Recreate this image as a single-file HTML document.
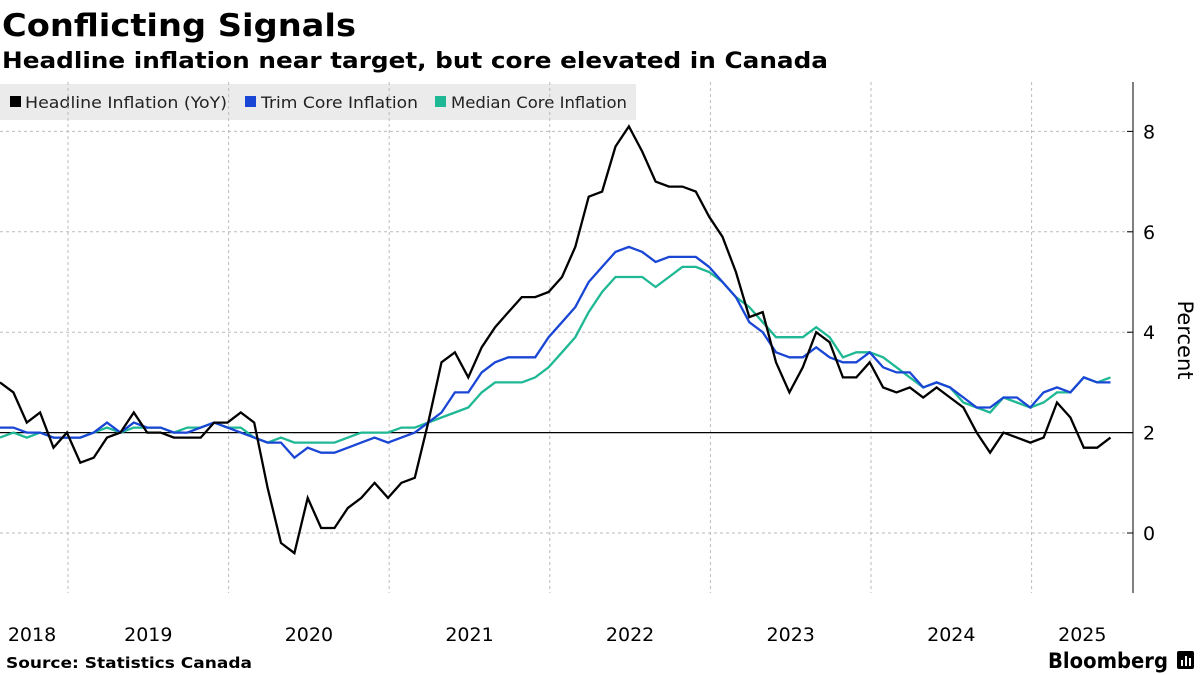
<!DOCTYPE html>
<html><head><meta charset="utf-8"><style>
body{margin:0;background:#fff;}
svg{display:block;font-family:"DejaVu Sans","Liberation Sans",sans-serif;}
</style></head><body>
<svg id="chart" width="1200" height="675" viewBox="0 0 1200 675" xmlns="http://www.w3.org/2000/svg">
<text x="2" y="36" font-size="31" font-weight="bold" textLength="354" lengthAdjust="spacingAndGlyphs">Conflicting Signals</text>
<text x="2" y="68" font-size="22" font-weight="bold" textLength="826" lengthAdjust="spacingAndGlyphs">Headline inflation near target, but core elevated in Canada</text>
<g>
<rect x="0" y="84" width="636" height="36" fill="#ebebeb"/>
<g><rect x="10" y="96" width="11" height="11" fill="#000"/><text x="25" y="108" font-size="16" fill="#222" textLength="202" lengthAdjust="spacingAndGlyphs">Headline Inflation (YoY)</text></g>
<g><rect x="245" y="96" width="11" height="11" fill="#1a46d6"/><text x="261" y="108" font-size="16" fill="#222" textLength="157" lengthAdjust="spacingAndGlyphs">Trim Core Inflation</text></g>
<g><rect x="435" y="96" width="11" height="11" fill="#1fb894"/><text x="451" y="108" font-size="16" fill="#222" textLength="176" lengthAdjust="spacingAndGlyphs">Median Core Inflation</text></g>
</g>
<g id="grid"></g>
<g id="axes"></g>
<g id="series"></g>
<text transform="translate(1178,340) rotate(90)" text-anchor="middle" font-size="21" fill="#000">Percent</text>
<text x="6" y="668" font-size="15" font-weight="bold" textLength="246" lengthAdjust="spacingAndGlyphs">Source: Statistics Canada</text>
<g><text x="1048" y="668" font-size="21" font-weight="bold" textLength="120" lengthAdjust="spacingAndGlyphs">Bloomberg</text><rect x="1177" y="651" width="17" height="18" rx="2" fill="#000"/><rect x="1181" y="660" width="2" height="6" fill="#fff"/><rect x="1185" y="656" width="2" height="10" fill="#fff"/><rect x="1189" y="658" width="2" height="8" fill="#fff"/></g>
</svg>
<script>
const yearLabels = ["2018","2019","2020","2021","2022","2023","2024","2025"];
const yTicks = [0,2,4,6,8];
const headline = [3.0,2.8,2.2,2.4,1.7,2.0,
 1.4,1.5,1.9,2.0,2.4,2.0,2.0,1.9,1.9,1.9,2.2,2.2,
 2.4,2.2,0.9,-0.2,-0.4,0.7,0.1,0.1,0.5,0.7,1.0,0.7,
 1.0,1.1,2.2,3.4,3.6,3.1,3.7,4.1,4.4,4.7,4.7,4.8,
 5.1,5.7,6.7,6.8,7.7,8.1,7.6,7.0,6.9,6.9,6.8,6.3,
 5.9,5.2,4.3,4.4,3.4,2.8,3.3,4.0,3.8,3.1,3.1,3.4,
 2.9,2.8,2.9,2.7,2.9,2.7,2.5,2.0,1.6,2.0,1.9,1.8,
 1.9,2.6,2.3,1.7,1.7,1.9];
const trim = [2.1,2.1,2.0,2.0,1.9,1.9,1.9,2.0,2.2,2.0,2.2,2.1,2.1,2.0,2.0,2.1,2.2,2.1,2.0,1.9,1.8,1.8,1.5,1.7,1.6,1.6,1.7,1.8,1.9,
 1.8,1.9,2.0,2.2,2.4,2.8,2.8,3.2,3.4,3.5,3.5,3.5,3.9,4.2,4.5,5.0,5.3,5.6,5.7,5.6,5.4,5.5,5.5,5.5,5.3,5.0,4.7,4.2,4.0,3.6,3.5,3.5,
 3.7,3.5,3.4,3.4,3.6,3.3,3.2,3.2,2.9,3.0,2.9,2.7,2.5,2.5,2.7,2.7,2.5,2.8,2.9,2.8,3.1,3.0,3.0];
const median = [1.9,2.0,1.9,2.0,1.9,1.9,1.9,2.0,2.1,2.0,2.1,2.1,2.1,2.0,2.1,2.1,2.2,2.1,2.1,1.9,1.8,1.9,1.8,1.8,1.8,1.8,1.9,2.0,2.0,
 2.0,2.1,2.1,2.2,2.3,2.4,2.5,2.8,3.0,3.0,3.0,3.1,3.3,3.6,3.9,4.4,4.8,5.1,5.1,5.1,4.9,5.1,5.3,5.3,5.2,5.0,4.7,4.5,
 4.2,3.9,3.9,3.9,4.1,3.9,3.5,3.6,3.6,3.5,3.3,3.1,2.9,3.0,2.9,2.6,2.5,2.4,2.7,2.6,2.5,2.6,2.8,2.8,3.1,3.0,3.1];

const NS="http://www.w3.org/2000/svg";
const MW=13.38;
function xMonth(i){return i*MW;}
function xYearStart(k){return 68+(k-1)*160.6;}
function yVal(v){return 533-v*50.2;}
function mk(tag,attrs,parent){const e=document.createElementNS(NS,tag);for(const k in attrs)e.setAttribute(k,attrs[k]);parent.appendChild(e);return e;}

const grid=document.getElementById('grid'), axes=document.getElementById('axes'), ser=document.getElementById('series');
yearLabels.forEach((lab,k)=>{
  if(k>0){const g=mk('line',{x1:xYearStart(k),x2:xYearStart(k),y1:82,y2:593,stroke:'#bbb','stroke-dasharray':'3,3','stroke-width':1},grid);
  
  }
  let cx;
  if(k==0) cx=32;
  else if(k==yearLabels.length-1) cx=(xYearStart(k)+1133)/2;
  else cx=xYearStart(k)+80.3;
  const t=mk('text',{x:cx,y:641,'font-size':19,'text-anchor':'middle'},axes);
  t.textContent=lab;
  
  
});
yTicks.forEach(v=>{
  const y=yVal(v);
  if(v!==2){const g=mk('line',{x1:0,x2:1133,y1:y,y2:y,stroke:'#bbb','stroke-dasharray':'3,3','stroke-width':1},grid);
  
  }
  const tk=mk('line',{x1:1127,x2:1133,y1:y,y2:y,stroke:'#000','stroke-width':1},axes);
  
  
  const t=mk('text',{x:1143,y:y+7,'font-size':19},axes);
  t.textContent=v;
  
  
});
const ax=mk('line',{x1:1133,x2:1133,y1:82,y2:593,stroke:'#000','stroke-width':1},axes);


const tl=mk('line',{x1:0,x2:1133,y1:yVal(2),y2:yVal(2),stroke:'#000','stroke-width':1.2},axes);



function line(data,color,name){
  const d=data.map((v,i)=>(i?'L':'M')+xMonth(i).toFixed(1)+','+yVal(v).toFixed(1)).join('');
  const p=mk('path',{d:d,fill:'none',stroke:color,'stroke-width':2.3,'stroke-linejoin':'miter'},ser);
  
  
}
line(median,'#1fb894','median-core-line');
line(trim,'#1a46d6','trim-core-line');
line(headline,'#000','headline-inflation-line');
</script>
</body></html>
